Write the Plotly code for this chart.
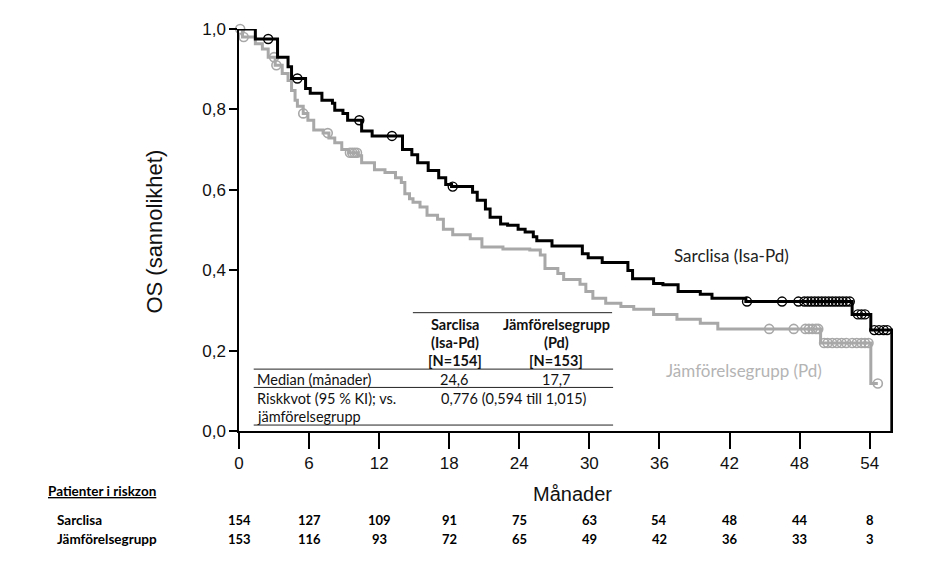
import numpy as np
import plotly.graph_objects as go

# ---- data ----
isa_t = [0, 1.4, 3.3, 4.2, 4.5, 5.7, 6.1, 7.1, 8.0, 8.2, 8.9, 9.3, 10.5, 11.4, 14.0, 14.8,
         15.3, 16.2, 17.1, 17.7, 18.2, 20.0, 20.4, 21.1, 21.5, 22.4, 23.0, 23.9, 24.5, 25.2,
         25.5, 26.8, 29.4, 29.9, 31.1, 33.3, 33.7, 35.5, 36.3, 37.6, 39.5, 40.5, 43.4, 52.5,
         54.1, 55.9]
isa_s = [1.0, 0.975, 0.93, 0.906, 0.877, 0.852, 0.84, 0.823, 0.815, 0.798, 0.79, 0.773, 0.746,
         0.734, 0.70, 0.687, 0.667, 0.648, 0.63, 0.613, 0.608, 0.594, 0.574, 0.552, 0.532, 0.515,
         0.512, 0.502, 0.495, 0.483, 0.473, 0.46, 0.441, 0.431, 0.419, 0.399, 0.379, 0.367, 0.364,
         0.347, 0.34, 0.33, 0.322, 0.29, 0.251, 0.0]
isa_cens = [2.5, 5.0, 10.3, 13.1, 18.3, 43.5, 46.5, 47.9, 48.4, 48.7, 49.0, 49.3, 49.6, 49.9,
            50.2, 50.5, 50.8, 51.1, 51.4, 51.7, 52.0, 52.3, 53.0, 53.3, 53.6, 54.4, 54.8, 55.2, 55.5]

pd_t = [0, 0.3, 1.4, 2.0, 2.5, 3.1, 3.7, 4.2, 4.5, 4.8, 5.0, 5.5, 5.9, 6.4, 7.2, 7.7, 8.2, 8.8,
        9.4, 10.2, 10.5, 11.6, 12.5, 13.4, 13.9, 14.2, 14.6, 14.9, 15.5, 16.1, 17.0, 17.5, 18.3,
        19.8, 20.8, 22.6, 24.9, 25.8, 26.2, 27.3, 27.8, 29.2, 29.7, 30.3, 31.4, 32.7, 33.8, 35.5,
        37.5, 39.5, 41.0, 49.8, 54.1, 54.7]
pd_s = [1.0, 0.98, 0.963, 0.95, 0.93, 0.91, 0.889, 0.872, 0.847, 0.823, 0.808, 0.79, 0.773,
        0.749, 0.741, 0.729, 0.717, 0.70, 0.692, 0.685, 0.667, 0.65, 0.643, 0.63, 0.618, 0.59,
        0.578, 0.569, 0.557, 0.537, 0.527, 0.502, 0.488, 0.478, 0.458, 0.453, 0.45, 0.438, 0.404,
        0.392, 0.377, 0.365, 0.347, 0.33, 0.318, 0.31, 0.303, 0.29, 0.278, 0.268, 0.254, 0.219,
        0.118, 0.118]
pd_cens = [0.1, 0.4, 3.0, 3.2, 5.5, 7.6, 9.5, 9.7, 9.9, 10.1, 45.4, 47.5, 48.5, 48.8, 49.1,
           49.4, 49.6, 50.1, 50.4, 50.8, 51.2, 51.6, 52.0, 52.5, 52.9, 53.3, 53.6, 53.9, 54.7]

x_ticks = [0, 6, 12, 18, 24, 30, 36, 42, 48, 54]
risk_isa = [154, 127, 109, 91, 75, 63, 54, 48, 44, 8]
risk_pd = [153, 116, 93, 72, 65, 49, 42, 36, 33, 3]

BLACK = "#000000"
GRAY = "#a8a8a8"


def step_val(times, surv, t):
    times = np.asarray(times)
    idx = np.searchsorted(times, t, side="right") - 1
    return [surv[i] for i in idx]


fig = go.Figure()
fig.add_trace(go.Scatter(x=pd_t, y=pd_s, mode="lines", line=dict(color=GRAY, width=3, shape="hv"),
                         showlegend=False, cliponaxis=False))
fig.add_trace(go.Scatter(x=pd_cens, y=step_val(pd_t, pd_s, pd_cens), mode="markers",
                         marker=dict(symbol="circle-open", size=9, color=GRAY, line=dict(width=1.6)),
                         showlegend=False, cliponaxis=False))
fig.add_trace(go.Scatter(x=isa_t, y=isa_s, mode="lines", line=dict(color=BLACK, width=3, shape="hv"),
                         showlegend=False, cliponaxis=False))
fig.add_trace(go.Scatter(x=isa_cens, y=step_val(isa_t, isa_s, isa_cens), mode="markers",
                         marker=dict(symbol="circle-open", size=9, color=BLACK, line=dict(width=1.4)),
                         showlegend=False, cliponaxis=False))

# page offset of the figure inside the browser (body margin)
OFF = 8
FIG_W, FIG_H = 948 - OFF, 566 - OFF

PLOT_TOP = 25
PLOT_BOT = 431
H = PLOT_BOT - PLOT_TOP
LEFT = 239.3
RIGHT = 892.6
W = RIGHT - LEFT


def py(p):
    return (PLOT_BOT - p) / H


def px(p):
    return (p - LEFT) / W


ann = []
tf = "Lato, Liberation Sans, sans-serif"


def add(x, y, text, size=14.5, color="#111111", xanchor="center", family=tf, xref="paper", **kw):
    ann.append(dict(x=x, y=y, xref=xref, yref="paper", text=text, showarrow=False,
                    xanchor=xanchor, yanchor="middle",
                    font=dict(family=family, size=size, color=color), **kw))


# curve labels
add(px(731), py(254), "Sarclisa (Isa-Pd)", size=17, color="#222222")
add(px(744), py(370), "Jämförelsegrupp (Pd)", size=17, color="#b4b4b4")

# inset table
for i, line in enumerate(["Sarclisa", "(Isa-Pd)", "[N=154]"]):
    add(px(455), py(323 + 18.5 * i), "<b>%s</b>" % line)
for i, line in enumerate(["Jämförelsegrupp", "(Pd)", "[N=153]"]):
    add(px(556), py(323 + 18.5 * i), "<b>%s</b>" % line)
add(px(255), py(379), "Median (månader)", xanchor="left")
add(px(455), py(379), "24,6")
add(px(556), py(379), "17,7")
add(px(255), py(398), "Riskkvot (95 % KI); vs.", xanchor="left")
add(px(514), py(398), "0,776 (0,594 till 1,015)")
add(px(255), py(416), "jämförelsegrupp", xanchor="left")

shapes = []
for (x0, x1, yy) in [(413, 612, 311.5), (254, 613, 368.5), (254, 613, 387), (254, 613, 425)]:
    shapes.append(dict(type="line", xref="paper", yref="paper", x0=px(x0), x1=px(x1),
                       y0=py(yy), y1=py(yy), line=dict(color="#222222", width=1)))

# axis titles
add(px(155), py(230), "OS (sannolikhet)", size=22, family="Liberation Sans, Arial, sans-serif",
    textangle=-90)
add(px(572), py(495), "Månader", size=20, family="Liberation Sans, Arial, sans-serif")

# risk table
add(px(47), py(492), "<b><u>Patienter i riskzon</u></b>", size=13.5, color="#000000", xanchor="left")
add(px(55), py(521), "<b>Sarclisa</b>", size=13.5, color="#000000", xanchor="left")
add(px(55), py(540), "<b>Jämförelsegrupp</b>", size=13.5, color="#000000", xanchor="left")
for t, a, b in zip(x_ticks, risk_isa, risk_pd):
    add(t, py(521), "<b>%d</b>" % a, size=13, color="#000000", xref="x")
    add(t, py(540), "<b>%d</b>" % b, size=13, color="#000000", xref="x")

axfont = dict(family="Liberation Sans Narrow, Liberation Sans, Arial, sans-serif", size=17, color="#111111")
fig.update_layout(
    width=FIG_W, height=FIG_H,
    margin=dict(l=LEFT - OFF, r=FIG_W - (RIGHT - OFF), t=PLOT_TOP - OFF, b=FIG_H - (PLOT_BOT - OFF), pad=0),
    paper_bgcolor="white", plot_bgcolor="white",
    separators=", ",
    annotations=ann, shapes=shapes,
    xaxis=dict(range=[0, 56], tickvals=x_ticks, ticktext=[str(v) for v in x_ticks],
               showgrid=False, zeroline=False, showline=True, linecolor="#000000", linewidth=2,
               ticks="outside", ticklen=16, tickwidth=1.5, tickcolor="#000000",
               tickfont=axfont, fixedrange=True),
    yaxis=dict(range=[0, 1], tickvals=[0, 0.2, 0.4, 0.6, 0.8, 1.0], tickformat=".1f",
               showgrid=False, zeroline=False, showline=True, linecolor="#000000", linewidth=1.5,
               ticks="outside", ticklen=8, tickwidth=1.5, tickcolor="#000000",
               tickfont=axfont, fixedrange=True),
)

fig.write_html("out.html")
